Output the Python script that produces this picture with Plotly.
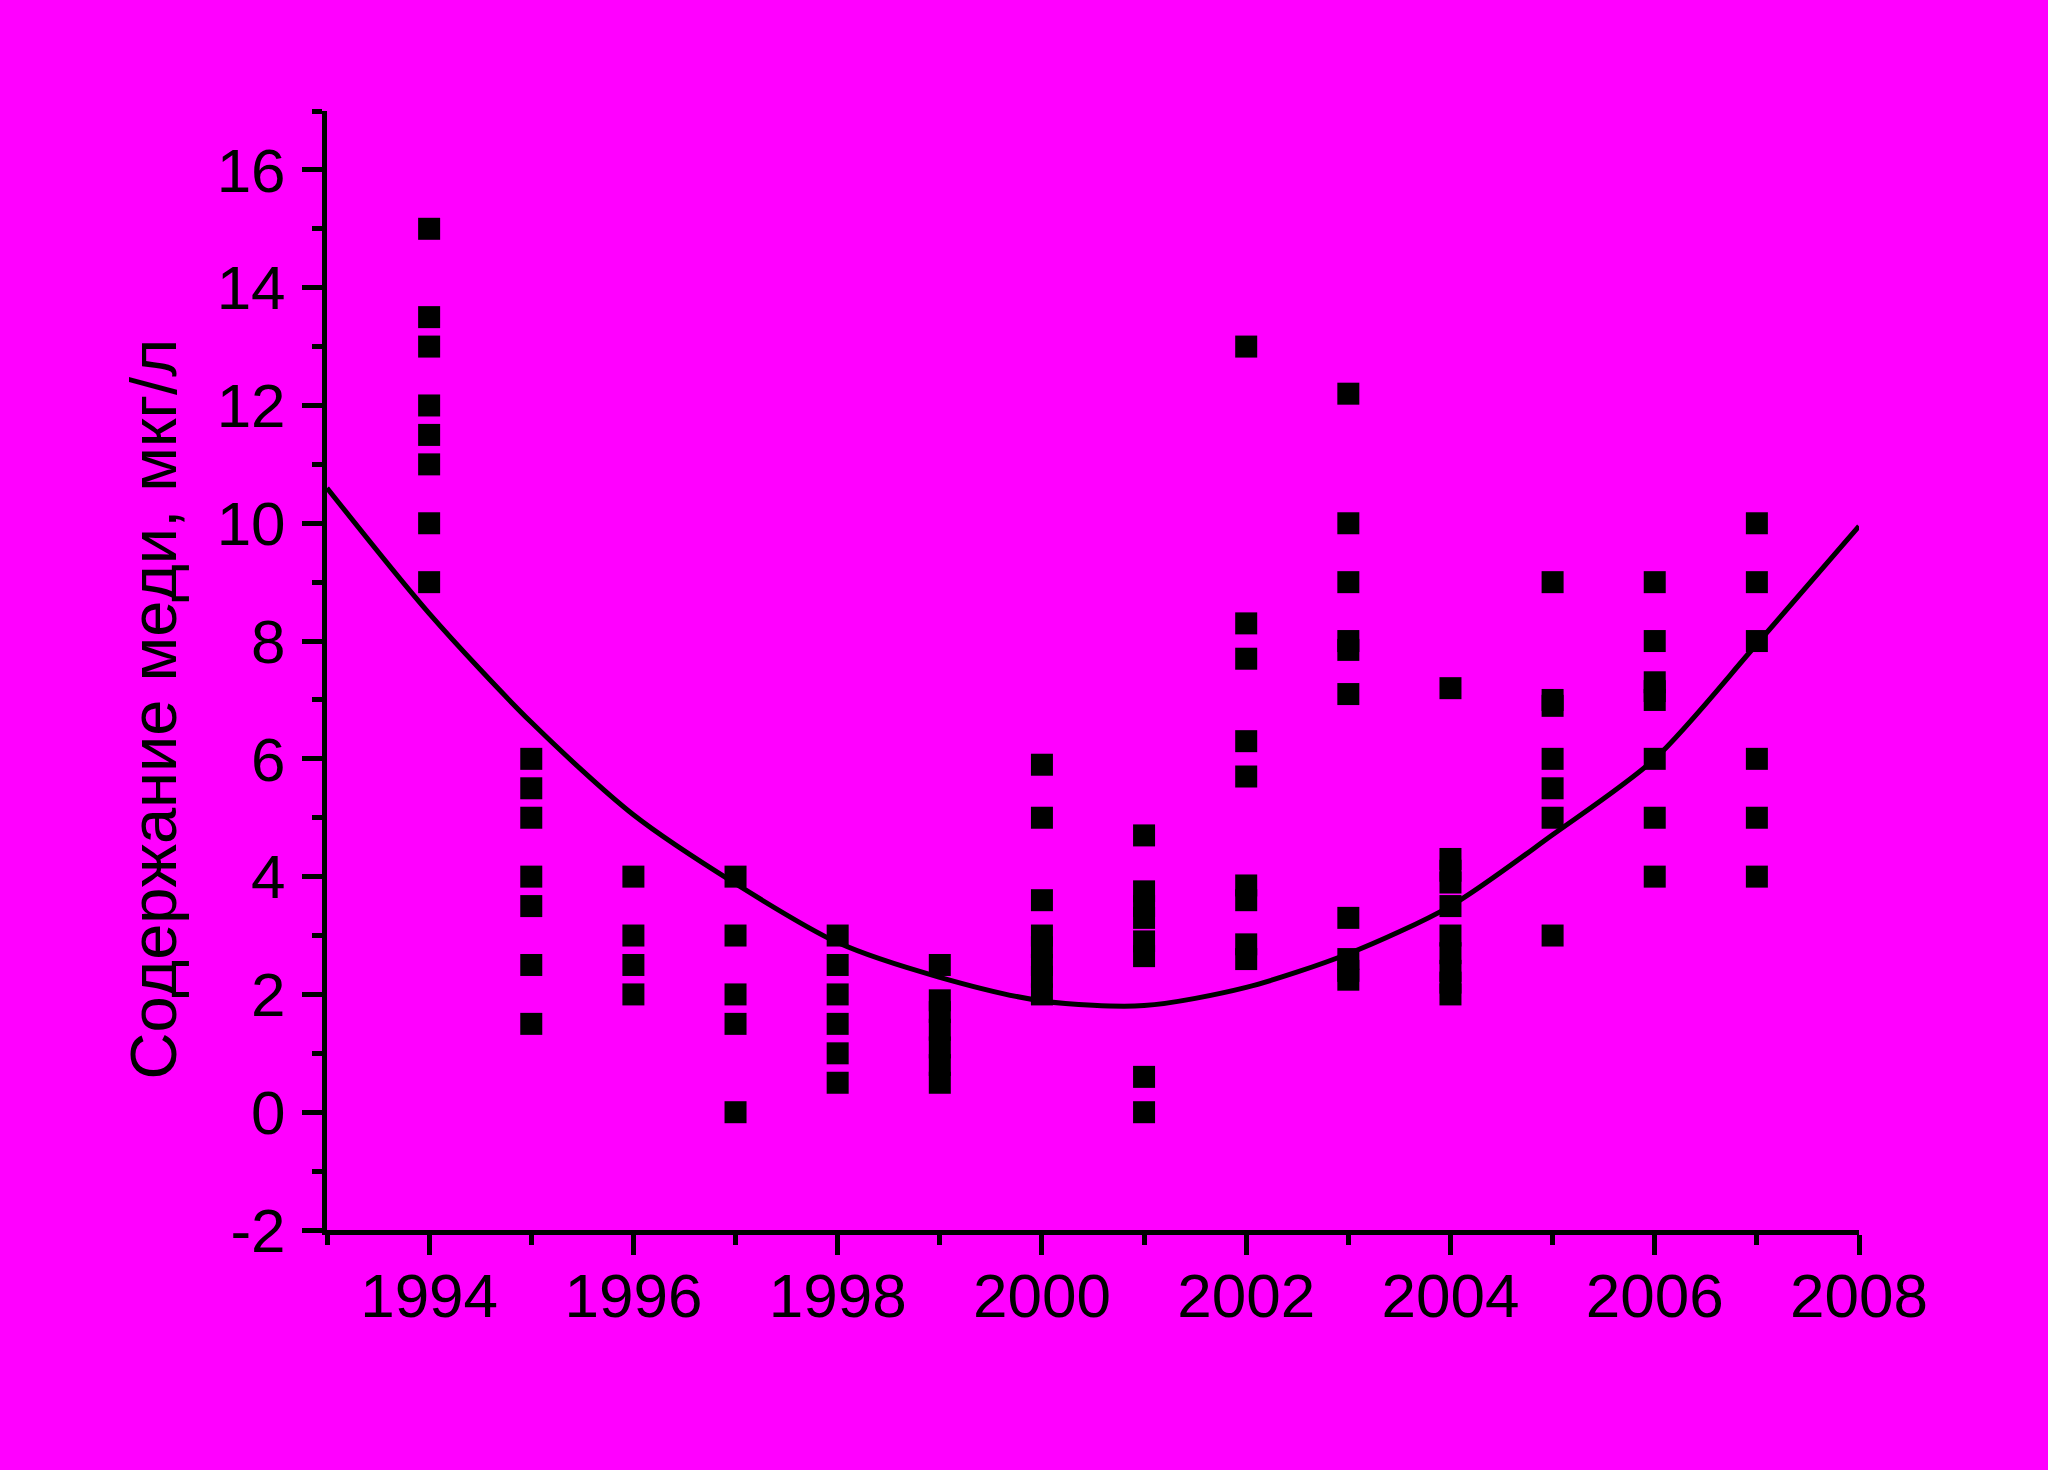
import plotly.graph_objects as go

# Data
years = [1994, 1995, 1996, 1997, 1998, 1999, 2000, 2001, 2002, 2003, 2004, 2005, 2006, 2007]
v1994 = [15, 13.5, 13, 12, 11.5, 11, 10, 9]
v1995 = [6, 5.5, 5, 4, 3.5, 2.5, 1.5]
v1996 = [4, 3, 2.5, 2]
v1997 = [4, 3, 2, 1.5, 0]
v1998 = [3, 2.5, 2, 1.5, 1, 0.5]
v1999 = [2.5, 1.9, 1.7, 1.4, 1.1, 0.8, 0.5]
v2000 = [5.9, 5.0, 3.6, 3.0, 2.8, 2.5, 2.3, 2.0]
v2001 = [4.7, 3.75, 3.5, 3.3, 2.9, 2.65, 0.6, 0]
v2002 = [13, 8.3, 7.7, 6.3, 5.7, 3.85, 3.6, 2.85, 2.6]
v2003 = [12.2, 10, 9, 8, 7.85, 7.1, 3.3, 2.6, 2.4, 2.25]
v2004 = [7.2, 4.3, 4.1, 3.9, 3.5, 3.0, 2.7, 2.4, 2.2, 2.0]
v2005 = [9, 7, 6.9, 6, 5.5, 5, 3]
v2006 = [9, 8, 7.3, 7.15, 7.0, 6, 5, 4]
v2007 = [10, 9, 8, 6, 5, 4]
values_by_year = [v1994, v1995, v1996, v1997, v1998, v1999, v2000,
                  v2001, v2002, v2003, v2004, v2005, v2006, v2007]

fit_years = [1993, 1994, 1995, 1996, 1997, 1998, 1999, 2000, 2001, 2002,
             2003, 2004, 2005, 2006, 2007, 2008]
fit_values = [10.6, 8.47, 6.62, 5.05, 3.88, 2.88, 2.29, 1.89, 1.81, 2.12,
              2.69, 3.5, 4.71, 6.0, 7.95, 9.95]

y_tickvals = [-2, 0, 2, 4, 6, 8, 10, 12, 14, 16]
y_ticktext = ["-2", "0", "2", "4", "6", "8", "10", "12", "14", "16"]
x_tickvals = [1994, 1996, 1998, 2000, 2002, 2004, 2006, 2008]
x_ticktext = ["1994", "1996", "1998", "2000", "2002", "2004", "2006", "2008"]

y_title = "Содержание меди, мкг/л"

xs, ys = [], []
for yr, vals in zip(years, values_by_year):
    for v in vals:
        xs.append(yr)
        ys.append(v)

fig = go.Figure()
fig.add_trace(go.Scatter(x=fit_years, y=fit_values, mode="lines",
                         line=dict(color="black", width=5, shape="spline", smoothing=0.8),
                         hoverinfo="skip"))
fig.add_trace(go.Scatter(x=xs, y=ys, mode="markers",
                         marker=dict(symbol="square", size=22, color="black",
                                     line=dict(width=0))))

BG = "#FF00FF"
FAM = "Liberation Sans, Arial, sans-serif"
font = dict(family=FAM, size=62, color="black")

fig.update_layout(
    width=2048, height=1470,
    paper_bgcolor=BG, plot_bgcolor=BG,
    showlegend=False,
    margin=dict(l=327, r=189, t=111, b=240, pad=0),
    font=font,
    annotations=[dict(text=y_title, textangle=-90, xref="paper", yref="paper",
                      x=-0.113, y=0.466, xanchor="center", yanchor="middle",
                      showarrow=False, font=dict(family=FAM, size=65, color="black"))],
)
fig.update_xaxes(range=[1993, 2008], tickmode="array", tickvals=x_tickvals, ticktext=x_ticktext,
                 ticks="outside", ticklen=20, tickwidth=5, tickcolor="black",
                 ticklabelstandoff=-12,
                 showline=True, linewidth=5, linecolor="black",
                 showgrid=False, zeroline=False,
                 minor=dict(dtick=1, tick0=1993, ticks="outside", ticklen=10, tickwidth=5,
                            tickcolor="black", showgrid=False),
                 tickfont=font)
fig.update_yaxes(range=[-2, 17], tickmode="array", tickvals=y_tickvals, ticktext=y_ticktext,
                 ticks="outside", ticklen=20, tickwidth=5, tickcolor="black",
                 ticklabelstandoff=4,
                 showline=True, linewidth=5, linecolor="black",
                 showgrid=False, zeroline=False,
                 minor=dict(dtick=1, tick0=-2, ticks="outside", ticklen=10, tickwidth=5,
                            tickcolor="black", showgrid=False),
                 tickfont=font)

fig.write_html("out.html", config={"displayModeBar": False},
               post_script="document.body.style.margin='0';document.body.style.background='#FF00FF';")
